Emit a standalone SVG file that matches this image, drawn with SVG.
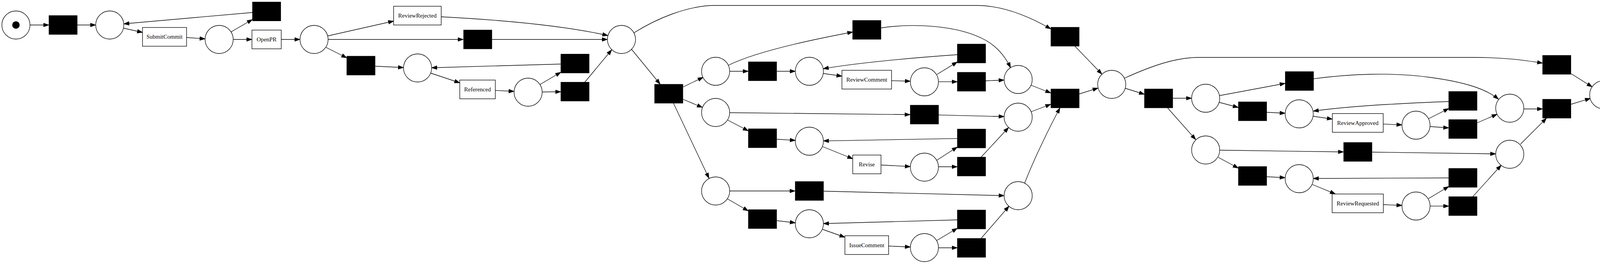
<svg xmlns="http://www.w3.org/2000/svg" width="4679" height="676" viewBox="0 0 4679 676">
<defs>
<style>
.place{fill:#fff;stroke:#000;stroke-width:1.33}
.tr{fill:#000;stroke:#000;stroke-width:1.33}
.lb{fill:#fff;stroke:#000;stroke-width:1.33}
.lt{font-family:"Liberation Serif","Times New Roman",serif;font-size:15px;text-anchor:middle;fill:#000}
.e{fill:none;stroke:#000;stroke-width:1.33;marker-end:url(#arr)}
</style>
<marker id="arr" markerUnits="userSpaceOnUse" markerWidth="16" markerHeight="12" refX="13.3" refY="4.7" orient="auto" overflow="visible">
<path d="M0,0 L13.3,4.7 L0,9.4 Z" fill="#000" stroke="#000" stroke-width="1"/>
</marker>
</defs>
<rect x="0" y="0" width="4679" height="676" fill="#fff"/>

<g id="connectors">
<path class="e" d="M77,64 L125,64"/>
<path class="e" d="M198,64 L245,64"/>
<path class="e" d="M316,72 L364.8,83"/>
<path class="e" d="M477.6,96 L525,99.5"/>
<path class="e" d="M591,82 L646,50"/>
<path class="e" d="M597,101 L645,101"/>
<path class="e" d="M646,32 L317,61"/>
<path class="e" d="M720,101 L768,101"/>
<path class="e" d="M839,92 L1007.6,54"/>
<path class="e" d="M840,101 L1186,101"/>
<path class="e" d="M834,121 L887.7,148"/>
<path class="e" d="M1129.5,43 C1300,52 1450,67 1556,91"/>
<path class="e" d="M1259.6,101 L1555,101"/>
<path class="e" d="M960.6,169.5 L1033,173"/>
<path class="e" d="M1102,187 L1177,212"/>
<path class="e" d="M1268,231.5 L1316,234"/>
<path class="e" d="M1383,216 L1435.6,185"/>
<path class="e" d="M1388,235.5 L1435.6,235"/>
<path class="e" d="M1435.6,164 L1105,173.5"/>
<path class="e" d="M1497,210.5 L1566,127.5"/>
<path class="e" d="M1623,84 C1680,48 1760,14 1830,14 L2500,14 C2570,14 2640,45 2690,74"/>
<path class="e" d="M1617,126.5 L1690,215.5"/>
<path class="e" d="M1748,223 L1800,198"/>
<path class="e" d="M1748,254 L1798,275"/>
<path class="e" d="M1724,264 L1815,456.5"/>
<path class="e" d="M1865,167 C1930,135 2060,105 2183,82"/>
<path class="e" d="M1868,182.5 L1915.6,182.5"/>
<path class="e" d="M1988.6,182.5 L2036,182.5"/>
<path class="e" d="M2107,188 L2155.4,195"/>
<path class="e" d="M2282.4,206.5 L2330.5,208"/>
<path class="e" d="M2450.7,140 C2350,147 2200,160 2107.5,176"/>
<path class="e" d="M2255.5,71.5 C2330,60 2450,62 2525,104 C2555,122 2575,148 2587,173.5"/>
<path class="e" d="M2398.7,190.5 L2450.7,158.6"/>
<path class="e" d="M2402.5,209.3 L2450.7,209.3"/>
<path class="e" d="M2523,207 L2570.5,205"/>
<path class="e" d="M2639,218 L2690,238"/>
<path class="e" d="M1868,288.5 L2330,293.5"/>
<path class="e" d="M1862,307 L1915.6,335"/>
<path class="e" d="M1988.6,356.5 L2036,359.5"/>
<path class="e" d="M2105,375 L2183,406.5"/>
<path class="e" d="M2255.4,422.5 L2330.5,426.5"/>
<path class="e" d="M2450.7,354.7 L2108,360.8"/>
<path class="e" d="M2403,294.4 L2570.5,298.5"/>
<path class="e" d="M2398.7,410 L2450.7,376.5"/>
<path class="e" d="M2402.5,427 L2450.7,427"/>
<path class="e" d="M2512,402 L2582,326.5"/>
<path class="e" d="M2640,286 L2690,267"/>
<path class="e" d="M1868,489 L2035.5,489"/>
<path class="e" d="M1862,509 L1915.6,540"/>
<path class="e" d="M1988.6,565 L2036,570.5"/>
<path class="e" d="M2105,587 L2163,607.5"/>
<path class="e" d="M2274.8,630 L2330.5,632.5"/>
<path class="e" d="M2450.7,563 L2108,572.5"/>
<path class="e" d="M2108.5,489.5 L2570.6,501"/>
<path class="e" d="M2398.7,615.5 L2450.7,584.5"/>
<path class="e" d="M2402.5,634.5 L2450.7,634.5"/>
<path class="e" d="M2512,610 L2583,528"/>
<path class="e" d="M2623,469 C2650,400 2690,320 2713.5,276.3"/>
<path class="e" d="M2752,118.5 L2821,190"/>
<path class="e" d="M2763,240.5 L2811,225.5"/>
<path class="e" d="M2880.5,226 L2929.8,241.5"/>
<path class="e" d="M2879,200 C2950,168 3010,147 3070,147 L3773,147 C3850,147 3900,154 3949,161.6"/>
<path class="e" d="M3002.8,251.5 L3050.5,251.5"/>
<path class="e" d="M2989,276.3 L3061,357.5"/>
<path class="e" d="M3121,245 L3290,213.5"/>
<path class="e" d="M3121,262 L3170,275"/>
<path class="e" d="M3243,287.5 L3290,290"/>
<path class="e" d="M3361,297.5 L3410.8,305"/>
<path class="e" d="M3541,317.7 L3589,319.8"/>
<path class="e" d="M3657,304 L3708.8,278"/>
<path class="e" d="M3661,324 L3708.8,327.5"/>
<path class="e" d="M3781.7,314.5 L3832.5,292.5"/>
<path class="e" d="M3708.8,260 C3600,264 3450,272 3362,284.5"/>
<path class="e" d="M3363,201.7 C3450,190 3560,184 3660,198 C3750,210 3805,228 3836,254"/>
<path class="e" d="M3901,279 L3949,279"/>
<path class="e" d="M3122.5,384.5 L3439.4,389"/>
<path class="e" d="M3119,403 L3170,430.5"/>
<path class="e" d="M3243,452.5 L3290,455"/>
<path class="e" d="M3360,472.5 L3418.5,496.6"/>
<path class="e" d="M3541.4,524 L3589,526"/>
<path class="e" d="M3657,508.5 L3708.8,477.5"/>
<path class="e" d="M3661,527.7 L3708.8,527.7"/>
<path class="e" d="M3770.5,503.4 L3843,423"/>
<path class="e" d="M3708.8,455.5 L3362,457"/>
<path class="e" d="M3512.3,389.5 L3829,394"/>
<path class="e" d="M3892.5,369 L3959,302.6"/>
<path class="e" d="M4021.8,188.5 L4076,222.5"/>
<path class="e" d="M4021.8,267 L4071.5,252"/>
<path class="e" d="M4141.5,242.7 L4189,242.7"/>
<path class="e" d="M4271.3,242.7 L4319,242.7"/>
<path class="e" d="M4391,242.7 L4439,242.7"/>
<path class="e" d="M4543,242.7 L4592,242.7"/>
</g>

<!-- places -->
<g id="p_start"><circle class="place" cx="40.8" cy="64" r="36"/><circle cx="40.8" cy="64" r="9.5" fill="#000"/></g>
<g id="p2"><circle class="place" cx="281" cy="64" r="36"/></g>
<g id="p3"><circle class="place" cx="561" cy="101" r="36"/></g>
<g id="p4"><circle class="place" cx="804" cy="101" r="36"/></g>
<g id="p5"><circle class="place" cx="1069" cy="174" r="36"/></g>
<g id="p6"><circle class="place" cx="1352" cy="236" r="36"/></g>
<g id="p7"><circle class="place" cx="1591" cy="101" r="36"/></g>
<g id="pa1"><circle class="place" cx="1832" cy="182.5" r="36"/></g>
<g id="pa2"><circle class="place" cx="1832" cy="288" r="36"/></g>
<g id="pa3"><circle class="place" cx="1832" cy="489" r="36"/></g>
<g id="pa1b"><circle class="place" cx="2072" cy="182.5" r="36"/></g>
<g id="pa1c"><circle class="place" cx="2366.5" cy="209.5" r="36"/></g>
<g id="pb1b"><circle class="place" cx="2072" cy="361.5" r="36"/></g>
<g id="pb1c"><circle class="place" cx="2366.5" cy="428" r="36"/></g>
<g id="pc1b"><circle class="place" cx="2072" cy="573" r="36"/></g>
<g id="pc1c"><circle class="place" cx="2366.5" cy="634" r="36"/></g>
<g id="pj_a"><circle class="place" cx="2606.5" cy="203.5" r="36"/></g>
<g id="pj_b"><circle class="place" cx="2606.5" cy="300" r="36"/></g>
<g id="pj_c"><circle class="place" cx="2606.5" cy="501" r="36"/></g>
<g id="p8"><circle class="place" cx="2846" cy="216" r="36"/></g>
<g id="pd1"><circle class="place" cx="3086.5" cy="251.5" r="36"/></g>
<g id="pd2"><circle class="place" cx="3086.5" cy="384" r="36"/></g>
<g id="pd1b"><circle class="place" cx="3326" cy="291.5" r="36"/></g>
<g id="pd1c"><circle class="place" cx="3625" cy="320.5" r="36"/></g>
<g id="pe1b"><circle class="place" cx="3326" cy="457.5" r="36"/></g>
<g id="pe1c"><circle class="place" cx="3625" cy="527.5" r="36"/></g>
<g id="pj_d"><circle class="place" cx="3865" cy="277" r="36"/></g>
<g id="pj_e"><circle class="place" cx="3865" cy="395" r="36"/></g>
<g id="p9"><circle class="place" cx="4105.5" cy="242.7" r="36"/></g>
<g id="p10"><circle class="place" cx="4355" cy="242.7" r="36"/></g>
<g id="p_end"><circle class="place" cx="4633" cy="242.7" r="41"/><circle class="place" cx="4633" cy="242.7" r="36.5"/><rect x="4623" y="233.5" width="20" height="19" fill="#000"/></g>

<!-- silent transitions -->
<g id="t1"><rect class="tr" x="125.5" y="40" width="72" height="48"/></g>
<g id="t_loop1"><rect class="tr" x="646.5" y="5.3" width="72" height="48"/></g>
<g id="t_ref_in"><rect class="tr" x="888" y="144" width="72" height="48"/></g>
<g id="t_skip"><rect class="tr" x="1187" y="77" width="72" height="48"/></g>
<g id="t_loop2"><rect class="tr" x="1436" y="138.7" width="72" height="48"/></g>
<g id="t_ref_out"><rect class="tr" x="1436" y="210.6" width="72" height="48"/></g>
<g id="t_split"><rect class="tr" x="1676" y="216" width="72" height="48"/></g>
<g id="ta_skip"><rect class="tr" x="2183" y="52.5" width="72" height="48"/></g>
<g id="ta_in"><rect class="tr" x="1916" y="158.5" width="72" height="48"/></g>
<g id="ta_loop"><rect class="tr" x="2451" y="113" width="72" height="48"/></g>
<g id="ta_out"><rect class="tr" x="2451" y="185.3" width="72" height="48"/></g>
<g id="tb_skip"><rect class="tr" x="2330.5" y="269.5" width="72" height="48"/></g>
<g id="tb_in"><rect class="tr" x="1916" y="330" width="72" height="48"/></g>
<g id="tb_loop"><rect class="tr" x="2451" y="330.6" width="72" height="48"/></g>
<g id="tb_out"><rect class="tr" x="2451" y="402.5" width="72" height="48"/></g>
<g id="tc_skip"><rect class="tr" x="2036" y="465" width="72" height="48"/></g>
<g id="tc_in"><rect class="tr" x="1916" y="537" width="72" height="48"/></g>
<g id="tc_loop"><rect class="tr" x="2451" y="538" width="72" height="48"/></g>
<g id="tc_out"><rect class="tr" x="2451" y="610.7" width="72" height="48"/></g>
<g id="tj_top"><rect class="tr" x="2690.5" y="70" width="72" height="48"/></g>
<g id="tj"><rect class="tr" x="2690.5" y="228" width="72" height="48"/></g>
<g id="t_split2"><rect class="tr" x="2930" y="228" width="72" height="48"/></g>
<g id="td_skip"><rect class="tr" x="3290.5" y="183.5" width="72" height="48"/></g>
<g id="td_in"><rect class="tr" x="3170.5" y="261" width="72" height="48"/></g>
<g id="td_loop"><rect class="tr" x="3709" y="234.4" width="72" height="48"/></g>
<g id="td_out"><rect class="tr" x="3709" y="306.4" width="72" height="48"/></g>
<g id="te_skip"><rect class="tr" x="3440" y="365" width="72" height="48"/></g>
<g id="te_in"><rect class="tr" x="3170.5" y="426.6" width="72" height="48"/></g>
<g id="te_loop"><rect class="tr" x="3709" y="431.4" width="72" height="48"/></g>
<g id="te_out"><rect class="tr" x="3709" y="503.8" width="72" height="48"/></g>
<g id="tf_top"><rect class="tr" x="3949.3" y="142" width="72" height="48"/></g>
<g id="tf_mid"><rect class="tr" x="3949.3" y="254.3" width="72" height="48"/></g>

<!-- labelled transitions -->
<g id="submit_commit"><rect class="lb" x="364.8" y="70.4" width="112.8" height="48"/><text class="lt" x="421.2" y="99.4">SubmitCommit</text></g>
<g id="open_pr"><rect class="lb" x="645" y="77" width="75" height="48"/><text class="lt" x="682.5" y="106">OpenPR</text></g>
<g id="review_rejected"><rect class="lb" x="1007.6" y="16" width="121.9" height="48"/><text class="lt" x="1068.5" y="45">ReviewRejected</text></g>
<g id="referenced"><rect class="lb" x="1177" y="205" width="91" height="48"/><text class="lt" x="1222.5" y="234">Referenced</text></g>
<g id="review_comment"><rect class="lb" x="2155.4" y="180" width="127" height="48"/><text class="lt" x="2219" y="209">ReviewComment</text></g>
<g id="revise"><rect class="lb" x="2183" y="397" width="72.4" height="48"/><text class="lt" x="2219" y="426">Revise</text></g>
<g id="issue_comment"><rect class="lb" x="2163" y="603.6" width="111.8" height="48"/><text class="lt" x="2219" y="632.6">IssueComment</text></g>
<g id="review_approved"><rect class="lb" x="3410.8" y="290.7" width="130.2" height="48"/><text class="lt" x="3476" y="319.7">ReviewApproved</text></g>
<g id="review_requested"><rect class="lb" x="3410.3" y="496.7" width="131.1" height="48"/><text class="lt" x="3476" y="525.7">ReviewRequested</text></g>
<g id="merge_pr"><rect class="lb" x="4189" y="218.7" width="82.3" height="48"/><text class="lt" x="4230" y="247.7">MergePR</text></g>
<g id="delete_branch"><rect class="lb" x="4439" y="218.7" width="104" height="48"/><text class="lt" x="4491" y="247.7">DeleteBranch</text></g>
</svg>
